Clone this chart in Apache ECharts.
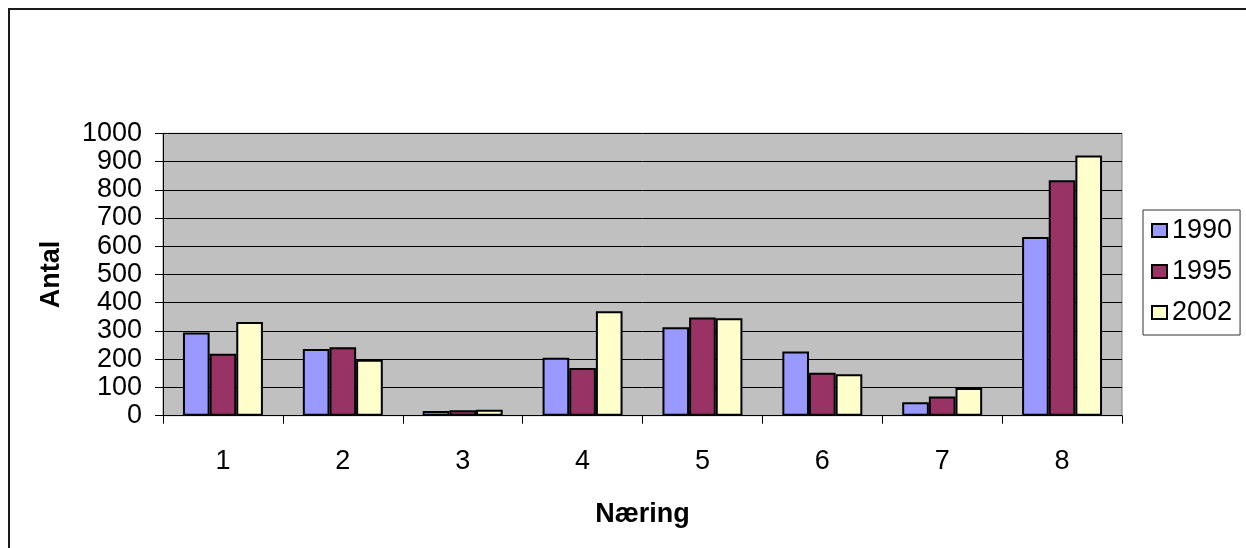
<!DOCTYPE html>
<html>
<head>
<meta charset="utf-8">
<script src="https://cdn.jsdelivr.net/npm/echarts@6/dist/echarts.min.js"></script>
<style>
  html, body { margin: 0; padding: 0; background: #ffffff; overflow: hidden; }
  #frame { position: absolute; left: 8px; top: 8px; width: 1250px; height: 560px; border: 2px solid #1a1a1a; box-sizing: border-box; }
  #chart { position: absolute; left: 0; top: 0; width: 1246px; height: 548px; }
</style>
</head>
<body>
<div id="frame"></div>
<div id="chart"></div>
<script>
const categories = ['1', '2', '3', '4', '5', '6', '7', '8'];
const seriesNames = ['1990', '1995', '2002'];
const values1990 = [295, 236, 17, 205, 313, 227, 48, 633];
const values1995 = [219, 242, 19, 169, 348, 152, 68, 834];
const values2002 = [332, 198, 21, 370, 345, 147, 98, 921];
const colors = ['#9999FF', '#993366', '#FFFFCC'];
const xAxisName = 'Næring';
const yAxisName = 'Antal';

const FONT = 'Liberation Sans, Arial, sans-serif';
const chart = echarts.init(document.getElementById('chart'), null, { renderer: 'canvas' });

const dataSets = [values1990, values1995, values2002];

chart.setOption({
  animation: false,
  backgroundColor: 'transparent',
  textStyle: { fontFamily: FONT },
  grid: {
    left: 163, top: 133.3, right: 124, bottom: 132.3,
    show: true, backgroundColor: '#C0C0C0', borderColor: '#808080', borderWidth: 1,
    containLabel: false
  },
  legend: {
    orient: 'vertical',
    left: 1143, top: 210,
    width: 100,
    padding: [7, 8, 9, 8],
    itemGap: 14,
    itemWidth: 15, itemHeight: 13,
    icon: 'rect',
    borderColor: '#333333', borderWidth: 1,
    backgroundColor: '#ffffff',
    textStyle: { fontFamily: FONT, fontSize: 27, color: '#000000', padding: [0, 0, 0, 0] },
    itemStyle: { borderColor: '#000000', borderWidth: 2 },
    data: seriesNames
  },
  xAxis: {
    type: 'category',
    data: categories,
    boundaryGap: true,
    name: xAxisName,
    nameLocation: 'middle',
    nameGap: 85,
    nameTextStyle: { fontFamily: FONT, fontSize: 27, fontWeight: 'bold', color: '#000000' },
    axisLine: { show: true, lineStyle: { color: '#000000', width: 1 } },
    axisTick: { show: true, alignWithLabel: false, length: 8, lineStyle: { color: '#000000' } },
    axisLabel: { fontFamily: FONT, fontSize: 27, color: '#000000', margin: 32 },
    splitLine: { show: false }
  },
  yAxis: {
    type: 'value',
    min: 0, max: 1000, interval: 100,
    name: yAxisName,
    nameLocation: 'middle',
    nameGap: 98,
    nameRotate: 90,
    nameTextStyle: { fontFamily: FONT, fontSize: 27, fontWeight: 'bold', color: '#000000' },
    axisLine: { show: true, lineStyle: { color: '#000000', width: 1 } },
    axisTick: { show: true, length: 8, lineStyle: { color: '#000000' } },
    axisLabel: { fontFamily: FONT, fontSize: 27, color: '#000000', margin: 21, formatter: v => String(v) },
    splitLine: { show: true, lineStyle: { color: '#000000', width: 1 } }
  },
  series: seriesNames.map((name, i) => ({
    name: name,
    type: 'bar',
    data: dataSets[i],
    barGap: '0%',
    barCategoryGap: '33.3%',
    itemStyle: { color: colors[i], borderColor: '#000000', borderWidth: 2 }
  }))
});
</script>
</body>
</html>
